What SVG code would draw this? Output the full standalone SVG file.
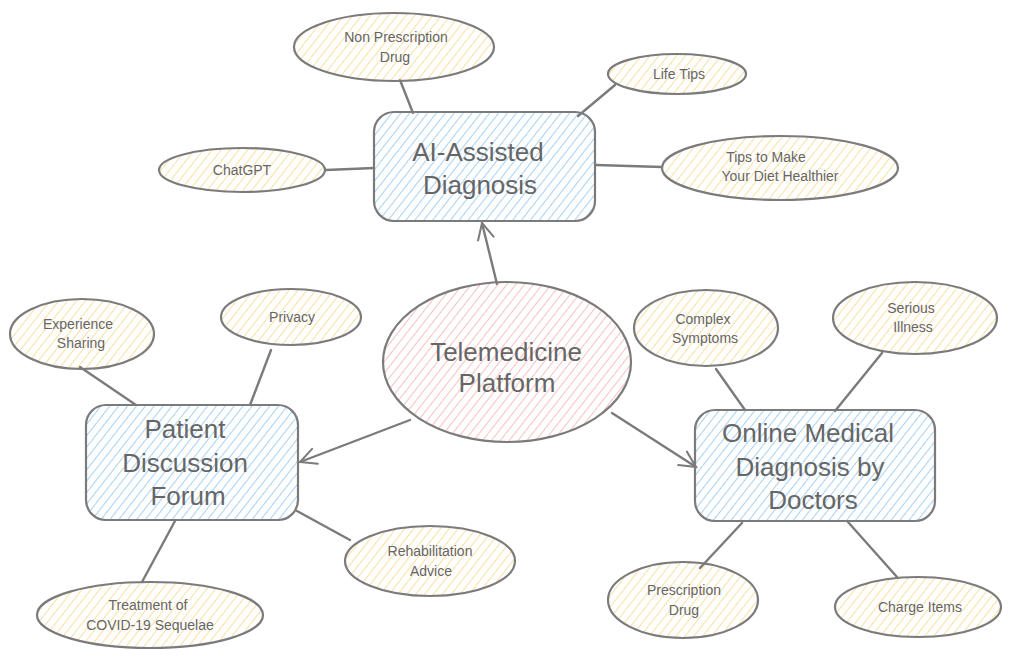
<svg xmlns="http://www.w3.org/2000/svg" width="1018" height="660" viewBox="0 0 1018 660">
<defs>
<pattern id="hb" patternUnits="userSpaceOnUse" width="7" height="8" patternTransform="rotate(38)"><line x1="0" y1="0" x2="0" y2="8" stroke="#7fbff2" stroke-width="1.4"/></pattern>
<pattern id="ho" patternUnits="userSpaceOnUse" width="7" height="8" patternTransform="rotate(38)"><line x1="0" y1="0" x2="0" y2="8" stroke="#fbd17a" stroke-width="1.4"/></pattern>
<pattern id="hp" patternUnits="userSpaceOnUse" width="7" height="8" patternTransform="rotate(38)"><line x1="0" y1="0" x2="0" y2="8" stroke="#f7a4a4" stroke-width="1.4"/></pattern>
<marker id="arr" viewBox="0 0 20 20" refX="18" refY="10" markerWidth="20" markerHeight="20" markerUnits="userSpaceOnUse" orient="auto"><path d="M2 2 L18 10 L2 18" fill="none" stroke="#7b7b7b" stroke-width="2" stroke-linecap="round"/></marker>
</defs>
<style>
.shape{stroke:#7b7b7b;stroke-width:2.2}
.main{fill:url(#hb)}
.leaf{fill:url(#ho)}
.hub{fill:url(#hp)}
.edge{stroke:#7b7b7b;stroke-width:2.4;fill:none;stroke-linecap:round}
text{font-family:"Liberation Sans","Open Sans",sans-serif;fill:#666666;text-anchor:middle}
.big{font-size:26px}
.small{font-size:14px}
</style>
<rect width="1018" height="660" fill="#ffffff"/>
<g id="connectors">
<line class="edge" x1="400" y1="80" x2="413" y2="113"/>
<line class="edge" x1="615" y1="85" x2="578" y2="116"/>
<line class="edge" x1="326" y1="170" x2="374" y2="168"/>
<line class="edge" x1="596" y1="165" x2="662" y2="167"/>
<line class="edge" x1="497" y1="284" x2="482" y2="223" marker-end="url(#arr)"/>
<line class="edge" x1="410" y1="420" x2="300" y2="462" marker-end="url(#arr)"/>
<line class="edge" x1="612" y1="413" x2="696" y2="467" marker-end="url(#arr)"/>
<line class="edge" x1="80" y1="367" x2="136" y2="405"/>
<line class="edge" x1="271" y1="350" x2="250" y2="405"/>
<line class="edge" x1="297" y1="511" x2="350" y2="540"/>
<line class="edge" x1="175" y1="521" x2="142" y2="582"/>
<line class="edge" x1="716" y1="369" x2="745" y2="410"/>
<line class="edge" x1="882" y1="353" x2="835" y2="411"/>
<line class="edge" x1="742" y1="523" x2="700" y2="568"/>
<line class="edge" x1="848" y1="522" x2="897" y2="577"/>
</g>
<g id="ai">
<rect class="shape main" x="374" y="112" width="221" height="109" rx="20"/>
<text class="big" x="478" y="161">AI-Assisted</text>
<text class="big" x="480" y="194">Diagnosis</text>
</g>
<g id="hubnode">
<ellipse class="shape hub" cx="507" cy="362" rx="124" ry="80"/>
<text class="big" x="506" y="361">Telemedicine</text>
<text class="big" x="507" y="392">Platform</text>
</g>
<g id="forum">
<rect class="shape main" x="86" y="405" width="212" height="115" rx="20"/>
<text class="big" x="185" y="438">Patient</text>
<text class="big" x="185" y="472">Discussion</text>
<text class="big" x="188" y="505">Forum</text>
</g>
<g id="online">
<rect class="shape main" x="695" y="410" width="240" height="111" rx="20"/>
<text class="big" x="808" y="442">Online Medical</text>
<text class="big" x="810" y="476">Diagnosis by</text>
<text class="big" x="813" y="509">Doctors</text>
</g>
<g id="nonpresc">
<ellipse class="shape leaf" cx="394" cy="47" rx="100" ry="34"/>
<text class="small" x="396" y="42">Non Prescription</text>
<text class="small" x="395" y="62">Drug</text>
</g>
<g id="lifetips">
<ellipse class="shape leaf" cx="677" cy="74" rx="69" ry="20"/>
<text class="small" x="679" y="79">Life Tips</text>
</g>
<g id="chatgpt">
<ellipse class="shape leaf" cx="242" cy="170" rx="83" ry="22"/>
<text class="small" x="242" y="175">ChatGPT</text>
</g>
<g id="diet">
<ellipse class="shape leaf" cx="780" cy="168" rx="118" ry="32"/>
<text class="small" x="766" y="162">Tips to Make</text>
<text class="small" x="780" y="181">Your Diet Healthier</text>
</g>
<g id="experience">
<ellipse class="shape leaf" cx="82" cy="334" rx="72" ry="35"/>
<text class="small" x="78" y="329">Experience</text>
<text class="small" x="81" y="348">Sharing</text>
</g>
<g id="privacy">
<ellipse class="shape leaf" cx="291" cy="317" rx="70" ry="28"/>
<text class="small" x="292" y="322">Privacy</text>
</g>
<g id="complex">
<ellipse class="shape leaf" cx="706" cy="328" rx="72" ry="38"/>
<text class="small" x="703" y="324">Complex</text>
<text class="small" x="705" y="343">Symptoms</text>
</g>
<g id="serious">
<ellipse class="shape leaf" cx="915" cy="318" rx="82" ry="36"/>
<text class="small" x="911" y="313">Serious</text>
<text class="small" x="913" y="332">Illness</text>
</g>
<g id="rehab">
<ellipse class="shape leaf" cx="430" cy="561" rx="85" ry="35"/>
<text class="small" x="430" y="556">Rehabilitation</text>
<text class="small" x="431" y="576">Advice</text>
</g>
<g id="covid">
<ellipse class="shape leaf" cx="150" cy="615" rx="113" ry="33"/>
<text class="small" x="148" y="610">Treatment of</text>
<text class="small" x="150" y="630">COVID-19 Sequelae</text>
</g>
<g id="presc">
<ellipse class="shape leaf" cx="683" cy="600" rx="75" ry="38"/>
<text class="small" x="684" y="595">Prescription</text>
<text class="small" x="684" y="615">Drug</text>
</g>
<g id="charge">
<ellipse class="shape leaf" cx="918" cy="607" rx="83" ry="30"/>
<text class="small" x="920" y="612">Charge Items</text>
</g>
</svg>
